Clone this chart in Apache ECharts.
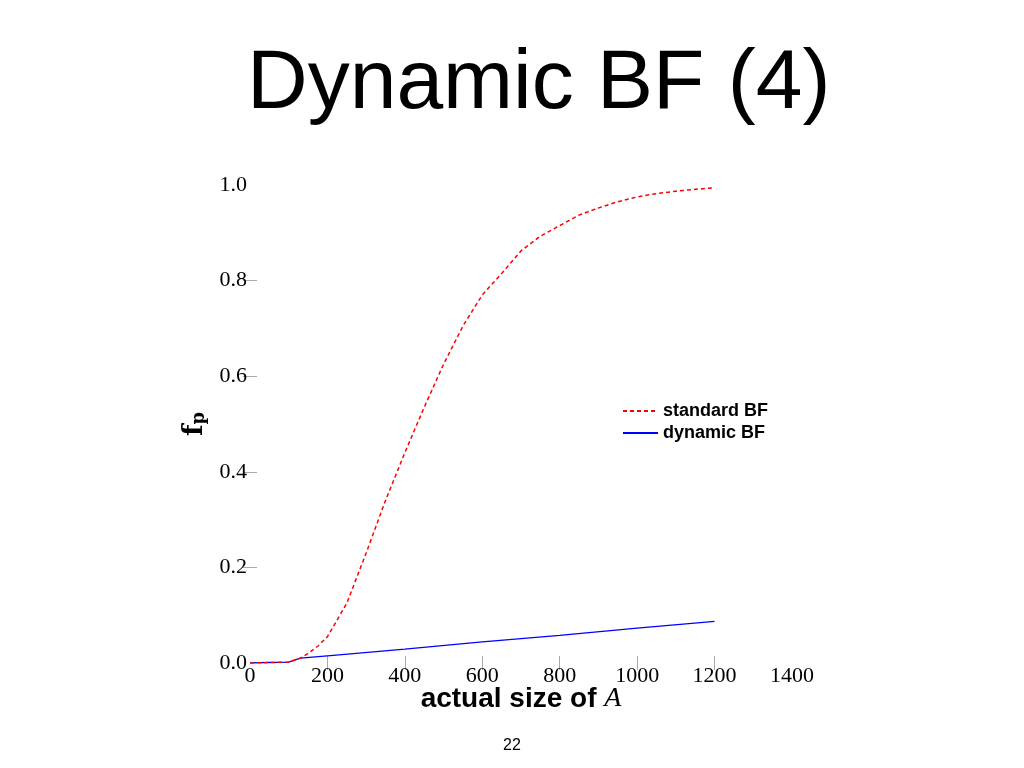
<!DOCTYPE html>
<html>
<head>
<meta charset="utf-8">
<script src="https://cdn.jsdelivr.net/npm/echarts@6/dist/echarts.min.js"></script>
<style>html,body{margin:0;padding:0;background:#fff;}#c{width:1024px;height:768px;}</style>
</head>
<body>
<div id="c"></div>
<script>
const standardX = [0, 50, 100, 130, 150, 175, 200, 250, 300, 350, 400, 450, 500, 550, 600, 650, 700, 750, 800, 850, 900, 950, 1000, 1050, 1100, 1150, 1200];
const standardY = [0, 0.001, 0.002, 0.01, 0.02, 0.035, 0.055, 0.125, 0.23, 0.34, 0.44, 0.535, 0.625, 0.705, 0.77, 0.815, 0.862, 0.893, 0.915, 0.937, 0.952, 0.965, 0.975, 0.982, 0.987, 0.991, 0.994];
const dynamicX = [0, 50, 100, 130, 200, 400, 600, 800, 1000, 1200];
const dynamicY = [0, 0.001, 0.002, 0.01, 0.015, 0.029, 0.044, 0.058, 0.073, 0.087];
const xTicks = [200, 400, 600, 800, 1000, 1200];
const yTicks = [0.2, 0.4, 0.6, 0.8];
const seriesNames = ['standard BF', 'dynamic BF'];

const chart = echarts.init(document.getElementById('c'));
const serif = 'Liberation Serif';
const tickStyle = {show: true, inside: true, length: 7, lineStyle: {color: '#aaa', width: 1}};
chart.setOption({
  animation: false,
  backgroundColor: '#fff',
  graphic: [
    {type: 'text', left: 247, top: 43, style: {text: 'Dynamic BF (4)', font: '84px "Liberation Sans"', fill: '#000'}},
    {type: 'text', left: 'center', top: 738, style: {text: '22', font: '16px "Liberation Sans"', fill: '#000'}}
  ],
  grid: {left: 250, right: 232, top: 185, bottom: 105},
  legend: {
    left: 617, top: 397, orient: 'vertical', itemWidth: 35, itemHeight: 14, itemGap: 4,
    data: seriesNames,
    itemStyle: {opacity: 0},
    textStyle: {fontFamily: 'Liberation Sans', fontWeight: 'bold', fontSize: 18, color: '#000'}
  },
  xAxis: [
    {
      type: 'value', position: 'bottom', min: 0, max: 1400, interval: 200,
      axisLine: {show: false}, splitLine: {show: false},
      axisTick: Object.assign({customValues: xTicks}, tickStyle),
      axisLabel: {fontFamily: serif, fontSize: 22, color: '#000', margin: 2, formatter: v => String(v)},
      name: '{b|actual size of }{i|A}', nameLocation: 'middle', nameGap: 22, nameMoveOverlap: false,
      nameTextStyle: {rich: {
        b: {fontFamily: 'Liberation Sans', fontWeight: 'bold', fontSize: 28, color: '#000'},
        i: {fontFamily: serif, fontStyle: 'italic', fontSize: 28, color: '#000'}
      }}
    },
    {
      type: 'value', position: 'top', min: 0, max: 1400, interval: 200,
      axisLine: {show: false}, splitLine: {show: false},
      axisTick: Object.assign({customValues: xTicks}, tickStyle),
      axisLabel: {show: false}
    }
  ],
  yAxis: [
    {
      type: 'value', position: 'left', min: 0, max: 1, interval: 0.2,
      axisLine: {show: false}, splitLine: {show: false},
      axisTick: Object.assign({customValues: yTicks}, tickStyle),
      axisLabel: {fontFamily: serif, fontSize: 22, color: '#000', margin: 3, formatter: v => v.toFixed(1)},
      name: '{f|f}{p|p}', nameLocation: 'middle', nameGap: 34, nameRotate: 90,
      nameTextStyle: {rich: {
        f: {fontFamily: 'DejaVu Serif', fontWeight: 'bold', fontSize: 27, color: '#000'},
        p: {fontFamily: 'DejaVu Serif', fontWeight: 'bold', fontSize: 18, color: '#000', padding: [10, 0, 0, 0]}
      }}
    },
    {
      type: 'value', position: 'right', min: 0, max: 1, interval: 0.2,
      axisLine: {show: false}, splitLine: {show: false},
      axisTick: Object.assign({customValues: yTicks}, tickStyle),
      axisLabel: {show: false}
    }
  ],
  series: [
    {
      name: seriesNames[0], type: 'line', xAxisIndex: 0, yAxisIndex: 0,
      data: standardX.map((x, i) => [x, standardY[i]]),
      symbol: 'none', smooth: false,
      lineStyle: {color: '#ff0000', width: 1.5, type: [4, 3]},
      itemStyle: {color: '#ff0000'}, z: 3
    },
    {
      name: seriesNames[1], type: 'line', xAxisIndex: 0, yAxisIndex: 0,
      data: dynamicX.map((x, i) => [x, dynamicY[i]]),
      symbol: 'none',
      lineStyle: {color: '#0000ff', width: 1.3, type: 'solid'},
      itemStyle: {color: '#0000ff'}, z: 2
    }
  ]
});
</script>
</body>
</html>
